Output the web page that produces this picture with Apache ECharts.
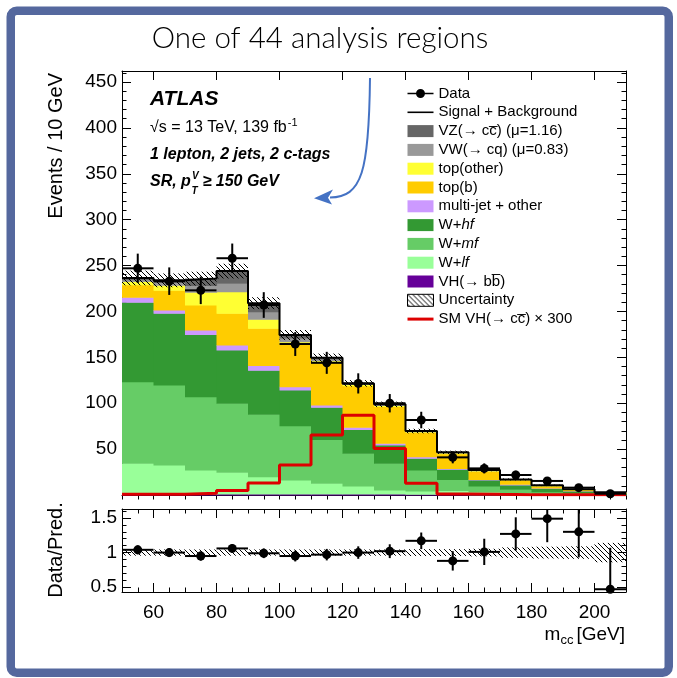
<!DOCTYPE html>
<html><head><meta charset="utf-8">
<script src="https://cdn.jsdelivr.net/npm/echarts@6/dist/echarts.min.js"></script>
<style>html,body{margin:0;padding:0;background:#fff}#c{width:677px;height:678px}</style>
</head><body><div id="c"></div>
<script>
// ---------------- data ----------------
const binLow = [50,60,70,80,90,100,110,120,130,140,150,160,170,180,190,200];
const binWidth = 10;
// stacked backgrounds, bottom -> top
const vhbb     = [0.8,0.8,1,1,1.2,1.2,1.2,1.2,1,0.8,0.5,0.4,0.3,0.2,0.1,0.1];
const wlf      = [33.7,31.9,26.2,23.7,18.8,15.1,11.5,8.6,4.4,3.6,4.5,3.2,2.2,1.3,0.9,0.3];
const wmf      = [89,87.1,79.8,75.2,68,59.2,47.9,35.6,29.1,22.8,12,6.2,3.7,2.1,1.5,0.6];
const whf      = [86.5,78.2,68,58.1,48,38.9,34.9,26.1,20,12.8,11,6.5,4.7,3.7,1.9,0.8];
const multijet = [5.5,3.5,4.7,5.4,5,3.6,2.5,2.2,1.8,1.8,1,0.7,0.7,0.3,0.2,0.1];
const topb     = [13.5,21.5,27.3,34.6,40.6,46.5,46.2,45.3,40.2,26.7,16,9,4.7,2.2,1.2,0.7];
const topOther = [3.5,5.5,13.8,23.5,10,2.5,2.1,1.5,1,0.5,0.7,0.5,0.3,0.3,0.2,0.1];
const vw       = [2,3,7.5,9.1,8.1,4,1.7,0.7,0.8,0.4,0.5,0.4,0.2,0.2,0.1,0.1];
const vz       = [2,2.4,7.5,13.4,9.3,3.3,1.6,0.4,0.5,0.3,0.3,0.3,0.2,0.2,0.1,0.1];
const uncMain  = [8,7.5,7.5,8,6.5,5.5,4.5,3.6,3,2.5,1.8,1.3,1.1,0.8,0.6,0.4];
const signalX300 = [0.7,0.7,1.8,5,13,32.7,65.5,87,50.8,12.7,1.1,0.7,0.4,0.4,0.3,0.2];
const dataVals = [247,233,223,258,207,164.5,144,121.6,100,81.7,41,29,21.8,15.3,8,1.4];
const dataErr  = [16,15,15,16,14,13,12,11,10,9,6.5,5.5,4.7,4,2.8,1.2];
// ratio panel
const ratioVals = [1.04,1.0,0.95,1.06,0.99,0.95,0.97,1.0,1.02,1.17,0.88,1.01,1.27,1.49,1.3,0.47];
const ratioErr  = [0.065,0.065,0.067,0.062,0.07,0.078,0.083,0.09,0.1,0.12,0.14,0.19,0.24,0.34,0.37,0.6];
const ratioUnc  = [0.045,0.045,0.045,0.045,0.045,0.045,0.045,0.045,0.045,0.05,0.05,0.055,0.075,0.085,0.09,0.14];
// ticks / labels
const xLabelTicks = [60,80,100,120,140,160,180,200];
const xMinorTicks = [50,55,60,65,70,75,80,85,90,95,100,105,110,115,120,125,130,135,140,145,150,155,160,165,170,175,180,185,190,195,200,205,210];
const yMainLabels = [50,100,150,200,250,300,350,400,450];
const yMainMinor  = [10,20,30,40,50,60,70,80,90,100,110,120,130,140,150,160,170,180,190,200,210,220,230,240,250,260,270,280,290,300,310,320,330,340,350,360,370,380,390,400,410,420,430,440,450,460];
const yRatioLabels = [0.5,1,1.5];
const yRatioMinor  = [0.5,0.6,0.7,0.8,0.9,1,1.1,1.2,1.3,1.4,1.5,1.6];
const compNames = ['VH(\u2192 bb\u0305)','W+lf','W+mf','W+hf','multi-jet + other','top(b)','top(other)','VW(\u2192 cq) (\u03bc=0.83)','VZ(\u2192 cc\u0305) (\u03bc=1.16)'];
const sigName = 'SM VH(\u2192 cc\u0305) \u00d7 300';

// ---------------- style ----------------
const FONT = '"Liberation Sans", Arial, Helvetica, sans-serif';
const compColors = ['#660099','#99ff99','#66cc66','#339933','#cc99ff','#ffcc00','#ffff33','#999999','#666666'];
const comps = [vhbb,wlf,wmf,whf,multijet,topb,topOther,vw,vz];
const X_MIN = 50, X_MAX = 210, Y_MAX = 462, R_MIN = 0.43, R_MAX = 1.63;

function makeHatch(s){
  const c = document.createElement('canvas'); c.width = s; c.height = s;
  const g = c.getContext('2d'); g.strokeStyle = '#000'; g.lineWidth = 1;
  g.beginPath(); g.moveTo(0,0); g.lineTo(s,s); g.moveTo(-1,s-1); g.lineTo(1,s+1); g.moveTo(s-1,-1); g.lineTo(s+1,1); g.stroke();
  return c;
}
const hatch = {image: makeHatch(5), repeat: 'repeat'};
const mctx = document.createElement('canvas').getContext('2d');
function tw(t, f){ mctx.font = f; return mctx.measureText(t).width; }

const total = binLow.map((_,i)=>comps.reduce((s,c)=>s+c[i],0));
function stepData(v){ const d = binLow.map((x,i)=>[x, v[i]]); d.push([binLow[binLow.length-1]+binWidth, v[v.length-1]]); return d; }

const series = [];
let base = binLow.map(()=>0);
comps.forEach((c, k)=>{
  const color = compColors[k];
  const d = binLow.map((x,i)=>[x, x+binWidth, base[i], base[i]+c[i]]);
  base = base.map((b,i)=>b+c[i]);
  series.push({type:'custom', name: compNames[k], xAxisIndex:0, yAxisIndex:0, z:2, silent:true,
    itemStyle:{color}, encode:{x:[0,1], y:[2,3]}, data:d,
    renderItem:(p, api)=>{
      const a = api.coord([api.value(0), api.value(2)]);
      const b = api.coord([api.value(1), api.value(3)]);
      return {type:'rect', shape:{x:a[0], y:b[1], width:b[0]-a[0]+0.6, height:a[1]-b[1]+0.5}, style:{fill:color}};
    }});
});
// uncertainty main
series.push({type:'custom', name:'Uncertainty', xAxisIndex:0, yAxisIndex:0, z:3, silent:true,
  itemStyle:{color:hatch}, encode:{x:[0,1], y:[2,3]},
  data: binLow.map((x,i)=>[x, x+binWidth, total[i]-uncMain[i], total[i]+uncMain[i]]),
  renderItem:(p, api)=>{
    const a = api.coord([api.value(0), api.value(2)]);
    const b = api.coord([api.value(1), api.value(3)]);
    return {type:'rect', shape:{x:a[0], y:b[1], width:b[0]-a[0], height:a[1]-b[1]}, style:{fill:hatch}};
  }});
series.push({type:'line', name:'Signal + Background', xAxisIndex:0, yAxisIndex:0, z:4, step:'end', symbol:'none', silent:true,
  data: stepData(total), lineStyle:{color:'#000', width:2}, itemStyle:{color:'#000'}});
series.push({type:'line', name:sigName, xAxisIndex:0, yAxisIndex:0, z:5, step:'end', symbol:'none', silent:true,
  data: stepData(signalX300), lineStyle:{color:'#dd0000', width:3}, itemStyle:{color:'#dd0000'}});

function pointSeries(name, xi, yi, vals, errs, lo, hi){
  return {type:'custom', name, xAxisIndex:xi, yAxisIndex:yi, z:6, silent:true, itemStyle:{color:'#000'},
    encode:{x:0, y:1},
    data: binLow.map((x,i)=>[x+binWidth/2, vals[i], errs[i]]),
    renderItem:(p, api)=>{
      const x = api.value(0), y = api.value(1), e = api.value(2);
      const c = api.coord([x, y]);
      const l = api.coord([x-binWidth/2, y]), r = api.coord([x+binWidth/2, y]);
      const t = api.coord([x, Math.min(hi, y+e)]), b = api.coord([x, Math.max(lo, y-e)]);
      return {type:'group', children:[
        {type:'line', shape:{x1:l[0], y1:l[1], x2:r[0], y2:r[1]}, style:{stroke:'#000', lineWidth:2}},
        {type:'line', shape:{x1:t[0], y1:t[1], x2:b[0], y2:b[1]}, style:{stroke:'#000', lineWidth:2}},
        {type:'circle', shape:{cx:c[0], cy:c[1], r:4.5}, style:{fill:'#000'}}
      ]};
    }};
}
series.push(pointSeries('Data', 0, 0, dataVals, dataErr, 0, Y_MAX));
// ratio band
series.push({type:'custom', name:'ratioUnc', xAxisIndex:4, yAxisIndex:4, z:3, silent:true,
  encode:{x:[0,1], y:[2,3]},
  data: binLow.map((x,i)=>[x, x+binWidth, 1-ratioUnc[i], 1+ratioUnc[i]]),
  renderItem:(p, api)=>{
    const a = api.coord([api.value(0), api.value(2)]);
    const b = api.coord([api.value(1), api.value(3)]);
    return {type:'rect', shape:{x:a[0], y:b[1], width:b[0]-a[0], height:a[1]-b[1]}, style:{fill:hatch}};
  }});
series.push(pointSeries('ratioData', 4, 4, ratioVals, ratioErr, R_MIN, R_MAX));

// ---------------- axes ----------------
const axLine = {show:true, onZero:false, lineStyle:{color:'#000', width:1}};
const lbl = {fontFamily:FONT, fontSize:19, color:'#000'};
function xAx(grid, pos, ticks, len, labels, line){
  return {type:'value', gridIndex:grid, position:pos, min:X_MIN, max:X_MAX,
    axisLine: line ? axLine : {show:false},
    axisTick:{show:true, inside:true, length:len, customValues:ticks, lineStyle:{color:'#000', width:1}},
    axisLabel: labels ? Object.assign({show:true, customValues:labels, margin:11}, lbl) : {show:false},
    splitLine:{show:false}};
}
function yAx(grid, pos, min, max, ticks, len, labels, line){
  return {type:'value', gridIndex:grid, position:pos, min, max, offset:0,
    axisLine: line ? axLine : {show:false},
    axisTick:{show:true, inside:true, length:len, customValues:ticks, lineStyle:{color:'#000', width:1}},
    axisLabel: labels ? Object.assign({show:true, customValues:labels, margin:5}, lbl) : {show:false},
    splitLine:{show:false}};
}
const xAxis = [
  xAx(0,'bottom',xLabelTicks,9,null,true), xAx(0,'bottom',xMinorTicks,4.5,null,false),
  xAx(0,'top',xLabelTicks,9,null,true), xAx(0,'top',xMinorTicks,4.5,null,false),
  xAx(1,'bottom',xLabelTicks,9,xLabelTicks,true), xAx(1,'bottom',xMinorTicks,4.5,null,false),
  xAx(1,'top',xLabelTicks,9,null,true), xAx(1,'top',xMinorTicks,4.5,null,false)
];
const yAxis = [
  yAx(0,'left',0,Y_MAX,yMainLabels,9,yMainLabels,true), yAx(0,'left',0,Y_MAX,yMainMinor,4.5,null,false),
  yAx(0,'right',0,Y_MAX,yMainLabels,9,null,true), yAx(0,'right',0,Y_MAX,yMainMinor,4.5,null,false),
  yAx(1,'left',R_MIN,R_MAX,yRatioLabels,9,yRatioLabels,true), yAx(1,'left',R_MIN,R_MAX,yRatioMinor,4.5,null,false),
  yAx(1,'right',R_MIN,R_MAX,yRatioLabels,9,null,true), yAx(1,'right',R_MIN,R_MAX,yRatioMinor,4.5,null,false)
];

// ---------------- texts ----------------
const G = [];
function txt(x, y, text, font, align, va, extra){
  const e = {type:'text', x, y, silent:true, z:20, style:{text, font, fill:'#000', align:align||'left', verticalAlign:va||'middle', textAlign:align||'left', textVerticalAlign:va||'middle'}};
  return Object.assign(e, extra||{});
}
G.push({type:'rect', silent:true, z:1, shape:{x:10.75, y:10.75, width:658, height:662, r:6}, style:{fill:'none', stroke:'#55689e', lineWidth:8.5}});
G.push(txt(320, 38, 'One of 44 analysis regions', '300 29.5px Lato, "Open Sans", sans-serif', 'center'));
G.push(txt(150, 99.5, 'ATLAS', 'italic bold 21px ' + FONT));
const f16 = '16px ' + FONT;
const s1 = '\u221as = 13 TeV, 139 fb';
G.push(txt(150, 128, s1, f16));
G.push(txt(150 + tw(s1, f16) + 1, 123, '-1', '11px ' + FONT));
const fb16 = 'italic bold 16px ' + FONT;
G.push(txt(150, 155, '1 lepton, 2 jets, 2 c-tags', fb16));
const s2 = 'SR, p';
const wS2 = tw(s2, fb16);
G.push(txt(150, 181.5, s2, fb16));
const fb10 = 'italic bold 10px ' + FONT;
G.push(txt(150 + wS2 + 1, 176, 'V', fb10));
G.push(txt(150 + wS2 + 0.5, 191, 'T', fb10));
G.push(txt(150 + wS2 + 1 + tw('V', fb10) + 4, 181.5, '\u2265 150 GeV', fb16));
// axis titles
const f20 = '20px ' + FONT;
G.push(txt(56, 73, 'Events / 10 GeV', f20, 'right', 'middle', {rotation: Math.PI/2}));
G.push(txt(56, 550, 'Data/Pred.', f20, 'center', 'middle', {rotation: Math.PI/2}));
const f19 = '19px ' + FONT, f13 = '13px ' + FONT;
const wGeV = tw('[GeV]', f19);
G.push(txt(625, 635, '[GeV]', f19, 'right'));
const xcc = 625 - wGeV - 3;
G.push(txt(xcc, 640, 'cc', f13, 'right'));
G.push(txt(xcc - tw('cc', f13), 635, 'm', f19, 'right'));
// arrow
G.push({type:'bezierCurve', silent:true, z:20, shape:{x1:370, y1:78, cpx1:369, cpy1:172, cpx2:362, cpy2:197, x2:330, y2:197.5}, style:{stroke:'#4472c4', lineWidth:2, fill:'none'}});
G.push({type:'polygon', silent:true, z:20, shape:{points:[[314,198.3],[333,189.5],[328,197.8],[332,204.5]]}, style:{fill:'#4472c4'}});

// ---------------- legend ----------------
const legendData = [
  {name:'Data', icon:'path://M0,4.3H26V5.7H0Z M17.5,5A4.5,4.5,0,1,1,8.5,5A4.5,4.5,0,1,1,17.5,5Z'},
  {name:'Signal + Background', icon:'path://M0,0H26V1.6H0Z'},
  {name:compNames[8], icon:'rect'}, {name:compNames[7], icon:'rect'}, {name:compNames[6], icon:'rect'},
  {name:compNames[5], icon:'rect'}, {name:compNames[4], icon:'rect'}, {name:compNames[3], icon:'rect'},
  {name:compNames[2], icon:'rect'}, {name:compNames[1], icon:'rect'}, {name:compNames[0], icon:'rect'},
  {name:'Uncertainty', icon:'rect', itemStyle:{color:hatch, borderColor:'#000', borderWidth:1}},
  {name:sigName, icon:'path://M0,0H26V3H0Z'}
];
const italicMap = {'W+hf':'hf', 'W+mf':'mf', 'W+lf':'lf'};

const chart = echarts.init(document.getElementById('c'), null, {renderer:'canvas'});
chart.setOption({
  animation:false,
  backgroundColor:'#fff',
  grid:[{left:122, top:71, width:504, height:424}, {left:122, top:509, width:504, height:83}],
  xAxis, yAxis, series,
  legend:{orient:'vertical', left:407, top:86, padding:0, itemWidth:26, itemHeight:12, itemGap:3.8, selectedMode:false,
    data:legendData,
    textStyle:{fontFamily:FONT, fontSize:15, color:'#000', lineHeight:13,
      rich:{n:{fontFamily:FONT, fontSize:15, color:'#000', lineHeight:13}, i:{fontFamily:FONT, fontSize:15, fontStyle:'italic', color:'#000', lineHeight:13}}},
    formatter:(name)=> italicMap[name] ? '{n|W+}{i|' + italicMap[name] + '}' : '{n|' + name + '}'
  },
  graphic:{elements:G}
});
</script></body></html>
